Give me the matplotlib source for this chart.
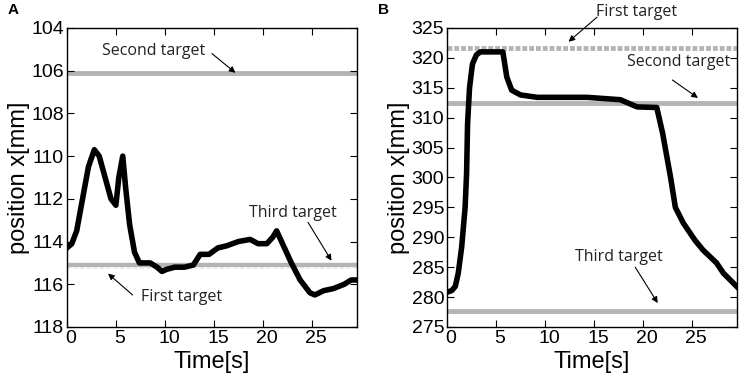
import matplotlib.pyplot as plt
import matplotlib.transforms as mtrans
import numpy as np

# panel A: position trace (time [s], position [mm])
t_a = [0.0, 0.5, 1.0, 1.6, 2.2, 2.8, 3.3, 3.9, 4.5, 5.0, 5.3, 5.7, 6.0, 6.4, 6.9, 7.4,
       8.5, 9.2, 9.7, 10.2, 11.0, 12.0, 12.9, 13.6, 14.5, 15.4, 16.3, 17.5, 18.7,
       19.5, 20.4, 21.0, 21.4, 22.0, 22.9, 23.8, 24.8, 25.3, 26.2, 27.2, 28.3, 29.0, 29.6]
x_a = [114.3, 114.1, 113.5, 112.0, 110.5, 109.7, 110.0, 111.0, 112.0, 112.3, 111.0,
       110.0, 111.5, 113.2, 114.5, 115.0, 115.0, 115.2, 115.4, 115.3, 115.2, 115.2,
       115.1, 114.6, 114.6, 114.3, 114.2, 114.0, 113.9, 114.1, 114.1, 113.8, 113.5,
       114.1, 115.0, 115.8, 116.4, 116.5, 116.3, 116.2, 116.0, 115.8, 115.8]
targets_a = {'first': 115.24, 'second': 106.1, 'third': 115.08}

# panel B
t_b = [0.0, 0.5, 0.85, 1.15, 1.5, 1.85, 2.0, 2.1, 2.3, 2.6, 3.0, 3.4, 4.5, 5.7, 6.1,
       6.6, 7.5, 9.2, 12.0, 14.3, 16.0, 17.7, 18.4, 19.4, 21.4, 22.0, 22.8, 23.3,
       24.1, 25.3, 26.1, 27.5, 28.2, 29.6]
x_b = [280.8, 281.1, 281.8, 284.0, 288.4, 295.0, 300.7, 309.0, 315.0, 319.0, 320.5,
       321.0, 321.0, 321.0, 316.8, 314.6, 313.8, 313.4, 313.4, 313.4, 313.2, 313.0,
       312.5, 311.8, 311.7, 307.4, 300.1, 295.0, 292.4, 289.5, 287.9, 285.7, 284.0,
       281.7]
targets_b = {'first': 321.7, 'second': 312.5, 'third': 277.7}

tick_font = 'Liberation Sans'
note_font = 'Open Sans'
gray = '#b4b4b4'

fig = plt.figure(figsize=(7.43, 3.78), dpi=100)
ax_a = fig.add_axes([0.090, 0.135, 0.3905, 0.791])
ax_b = fig.add_axes([0.6016, 0.135, 0.3905, 0.791])


def style(ax, ylim, yticks):
    ax.set_xlim(0, 29.6)
    ax.set_ylim(*ylim)
    ax.set_xticks([0, 5, 10, 15, 20, 25])
    ax.set_yticks(yticks)
    ax.tick_params(direction='in', top=True, right=True, length=5, width=0.8,
                   labelsize=14, pad=2)
    shift = mtrans.ScaledTranslation(4 / 100, 0, fig.dpi_scale_trans)
    for lab in ax.get_xticklabels():
        lab.set_fontfamily(tick_font)
        lab.set_transform(lab.get_transform() + shift)
    for lab in ax.get_yticklabels():
        lab.set_fontfamily(tick_font)
    for s in ax.spines.values():
        s.set_linewidth(1.0)
    ax.set_xlabel('Time[s]', fontsize=17, family=tick_font, labelpad=3)
    ax.set_ylabel('position x[mm]', fontsize=17, family=tick_font, labelpad=1)


def note(ax, text, xy, xytext, tail):
    ax.text(*xytext, text, fontsize=11.5, family=note_font, ha='center', va='center',
            color='#222222', clip_on=False)
    ax.annotate('', xy=xy, xytext=tail,
                arrowprops=dict(arrowstyle='-|>', color='black', lw=0.8,
                                mutation_scale=9, shrinkA=0, shrinkB=0))


# ---- panel A
ax_a.axhline(targets_a['third'], color=gray, lw=3.2, zorder=1)
ax_a.axhline(targets_a['first'], color='#e6e6e6', lw=1.2, ls=(0, (2, 2)), zorder=1)
ax_a.axhline(targets_a['second'], color=gray, lw=3.5, zorder=1)
ax_a.plot(t_a, x_a, color='black', lw=4, solid_joinstyle='round', zorder=2)
style(ax_a, (118, 104), np.arange(104, 119, 2))
note(ax_a, 'Second target', (17.2, 106.1), (8.8, 105.1), (14.8, 105.2))
note(ax_a, 'Third target', (27.0, 114.9), (23.1, 112.65), (24.6, 113.1))
note(ax_a, 'First target', (4.2, 115.5), (11.7, 116.6), (6.7, 116.5))

# ---- panel B
ax_b.axhline(targets_b['first'], color=gray, lw=3.5, ls=(0, (1, 0.4)), zorder=1)
ax_b.axhline(targets_b['second'], color=gray, lw=3.5, zorder=1)
ax_b.axhline(targets_b['third'], color=gray, lw=3.5, zorder=1)
ax_b.plot(t_b, x_b, color='black', lw=4, solid_joinstyle='round', zorder=2)
style(ax_b, (275, 325), np.arange(275, 326, 5))
note(ax_b, 'First target', (12.4, 322.7), (19.3, 327.7), (15.3, 326.8))
note(ax_b, 'Second target', (25.6, 313.3), (23.6, 319.3), (23.0, 316.3))
note(ax_b, 'Third target', (21.5, 279.0), (17.5, 286.7), (19.2, 285.0))

fig.text(8 / 743, 1 - 10 / 378, 'A', fontsize=11, fontweight='bold', family=tick_font,
         va='center')
fig.text(378 / 743, 1 - 10 / 378, 'B', fontsize=11, fontweight='bold', family=tick_font,
         va='center')

fig.savefig('out.png', dpi=100)
